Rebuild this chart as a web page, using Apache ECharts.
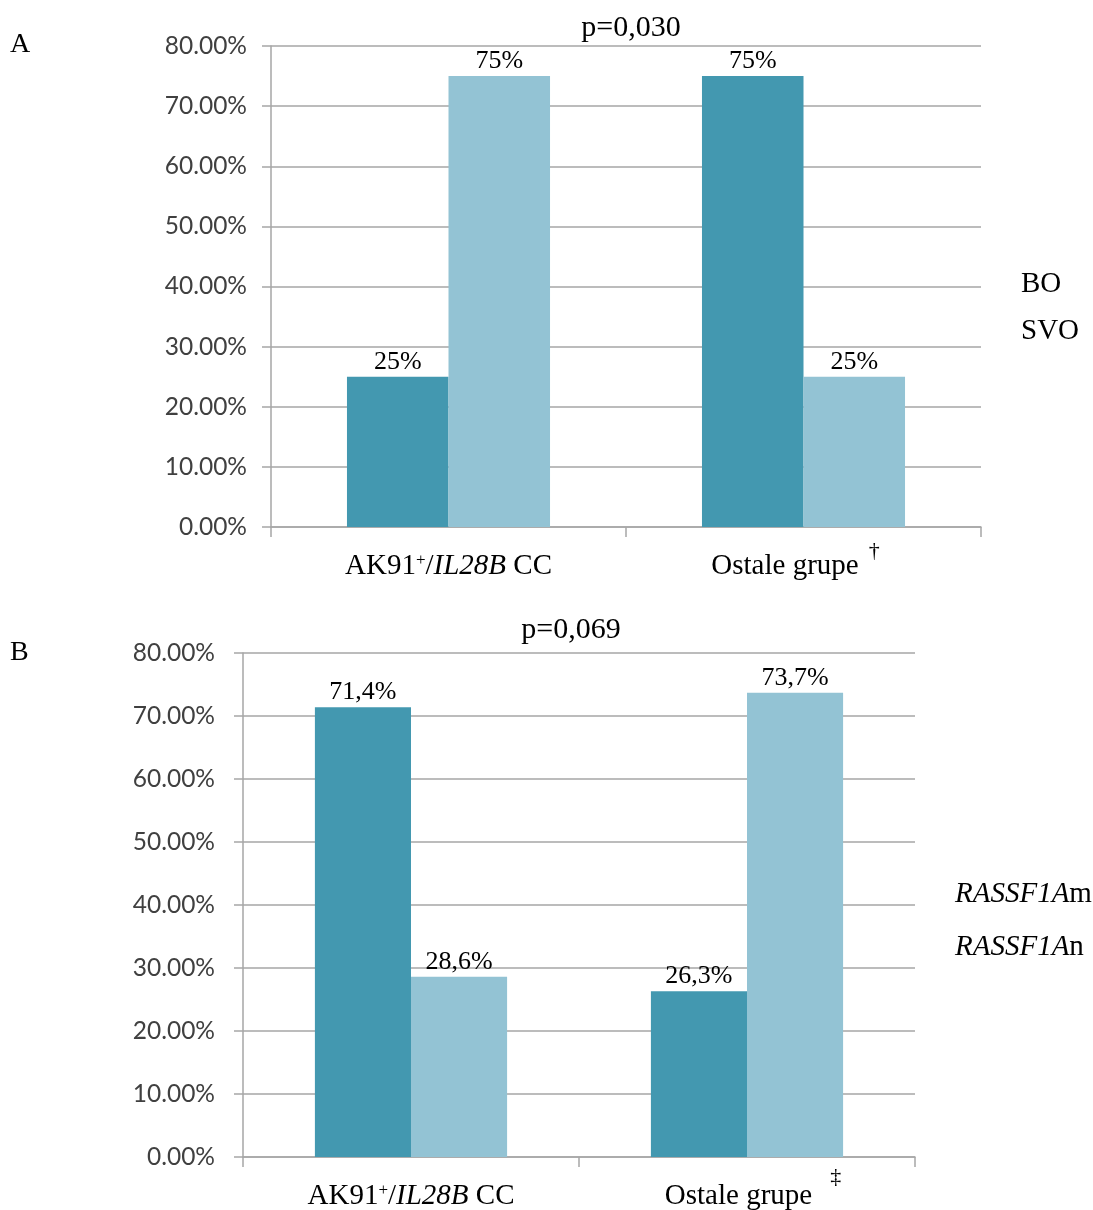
<!DOCTYPE html>
<html><head><meta charset="utf-8">
<script src="https://cdn.jsdelivr.net/npm/echarts@6/dist/echarts.min.js"></script>
<style>html,body{margin:0;padding:0;background:#fff}#c{width:1093px;height:1210px}</style>
</head><body><div id="c"></div>
<script>
// ---- data ----
var categories = ['AK91+/IL28B CC', 'Ostale grupe'];
var titleA = 'p=0,030';
var titleB = 'p=0,069';
var seriesNamesA = ['BO', 'SVO'];
var valuesA_BO = [25, 75];
var valuesA_SVO = [75, 25];
var seriesNamesB = ['RASSF1Am', 'RASSF1An'];
var valuesB_m = [71.4, 26.3];
var valuesB_n = [28.6, 73.7];
var catMarksA = ['', '†'];
var catMarksB = ['', '‡'];
var yMax = 80, yStep = 10;

var DARK = '#4398b0', LIGHT = '#93c3d4';
var SERIF = '"Liberation Serif","Times New Roman",serif';
var SANS = 'Lato,"Open Sans",sans-serif';
var GRID_COL = '#a6a6a6';

function pct(v, dec) { return (dec ? v.toFixed(1).replace('.', ',') : String(Math.round(v))) + '%'; }

function richCat(o) {
  return {
    n: { fontFamily: SERIF, fontSize: 29, color: '#000', padding: [16, 0, 0, 0] },
    np: { fontFamily: SERIF, fontSize: 29, color: '#000', padding: [16, 0, 0, o.lead] },
    it: { fontFamily: SERIF, fontSize: 29, fontStyle: 'italic', color: '#000', padding: [16, 0, 0, 0] },
    sup: { fontFamily: SERIF, fontSize: 17, color: '#000', verticalAlign: 'top', lineHeight: 14, padding: [16, 0, 0, 0] },
    mk: { fontFamily: SERIF, fontSize: o.mkSize, color: '#000', verticalAlign: 'top', lineHeight: 14, padding: [o.mkTop, o.mkRight, 0, o.mkLeft] }
  };
}
function catFmt(marks) {
  return function (v, i) {
    if (v.indexOf('AK91+/IL28B') === 0) {
      return '{n|AK91}{sup|+}{n|/}{it|IL28B}{n| CC}';
    }
    return '{np|' + v + '}' + (marks[i] ? '{mk|' + marks[i] + '}' : '');
  };
}
function richLegendName(name) {
  var m = name.match(/^(RASSF1A)(.*)$/);
  if (m) return '{it|' + m[1] + '}{n|' + m[2] + '}';
  return '{n|' + name + '}';
}

function yAxis(gi, margin) {
  return {
    gridIndex: gi, type: 'value', min: 0, max: yMax, interval: yStep,
    axisLine: { show: true, lineStyle: { color: GRID_COL, width: 1.5 } },
    axisTick: { show: true, length: 9, lineStyle: { color: GRID_COL, width: 1.5 } },
    splitLine: { show: true, lineStyle: { color: GRID_COL, width: 1.5 } },
    axisLabel: { fontFamily: SANS, fontSize: 24.5, color: '#404040', margin: margin,
      formatter: function (v) { return v.toFixed(2) + '%'; } }
  };
}
function xAxis(gi, marks, o, margin) {
  return {
    gridIndex: gi, type: 'category', data: categories,
    axisLine: { show: true, lineStyle: { color: GRID_COL, width: 1.5 } },
    axisTick: { show: true, length: 10, alignWithLabel: false, lineStyle: { color: GRID_COL, width: 1.5 } },
    axisLabel: { margin: margin, formatter: catFmt(marks), rich: richCat(o) }
  };
}
function bar(name, data, color, xi, dec) {
  return {
    name: name, type: 'bar', xAxisIndex: xi, yAxisIndex: xi, data: data,
    barWidth: '28.6%', barGap: '0%',
    itemStyle: { color: color },
    label: { show: true, position: 'top', distance: 2, fontFamily: SERIF, fontSize: 26, color: '#000',
      formatter: function (p) { return pct(p.value, dec); } }
  };
}

var chart = echarts.init(document.getElementById('c'), null, { renderer: 'canvas' });
chart.setOption({
  animation: false,
  backgroundColor: '#fff',
  title: [
    { text: titleA, left: 626, top: 8, textAlign: 'center', textStyle: { fontFamily: SERIF, fontSize: 30, fontWeight: 'normal', color: '#000' } },
    { text: titleB, left: 566, top: 610, textAlign: 'center', textStyle: { fontFamily: SERIF, fontSize: 30, fontWeight: 'normal', color: '#000' } },
    { text: 'A', left: 5, top: 26, textStyle: { fontFamily: SERIF, fontSize: 28, fontWeight: 'normal', color: '#000' } },
    { text: 'B', left: 5, top: 634, textStyle: { fontFamily: SERIF, fontSize: 28, fontWeight: 'normal', color: '#000' } }
  ],
  legend: [
    { data: seriesNamesA, orient: 'vertical', left: 1011, top: 265, itemWidth: 0, itemHeight: 0, itemGap: 18,
      selectedMode: false, icon: 'rect',
      textStyle: { fontFamily: SERIF, fontSize: 29, color: '#000' } },
    { data: seriesNamesB, orient: 'vertical', left: 945, top: 875, itemWidth: 0, itemHeight: 0, itemGap: 24,
      selectedMode: false, icon: 'rect',
      formatter: richLegendName,
      textStyle: {
        rich: { it: { fontFamily: SERIF, fontSize: 29, fontStyle: 'italic', color: '#000' },
                n: { fontFamily: SERIF, fontSize: 29, color: '#000' } } } }
  ],
  grid: [
    { left: 271, right: 112, top: 46, height: 481, outerBoundsMode: 'none' },
    { left: 243, right: 178, top: 653, height: 504, outerBoundsMode: 'none' }
  ],
  xAxis: [
    xAxis(0, catMarksA, { lead: 0, mkSize: 22, mkTop: 4, mkRight: 16, mkLeft: 10 }, 9),
    xAxis(1, catMarksB, { lead: 12, mkSize: 22, mkTop: 0, mkRight: 0, mkLeft: 18 }, 9)
  ],
  yAxis: [yAxis(0, 24), yAxis(1, 28)],
  series: [
    bar(seriesNamesA[0], valuesA_BO, DARK, 0, false),
    bar(seriesNamesA[1], valuesA_SVO, LIGHT, 0, false),
    bar(seriesNamesB[0], valuesB_m, DARK, 1, true),
    bar(seriesNamesB[1], valuesB_n, LIGHT, 1, true)
  ]
});
</script></body></html>
